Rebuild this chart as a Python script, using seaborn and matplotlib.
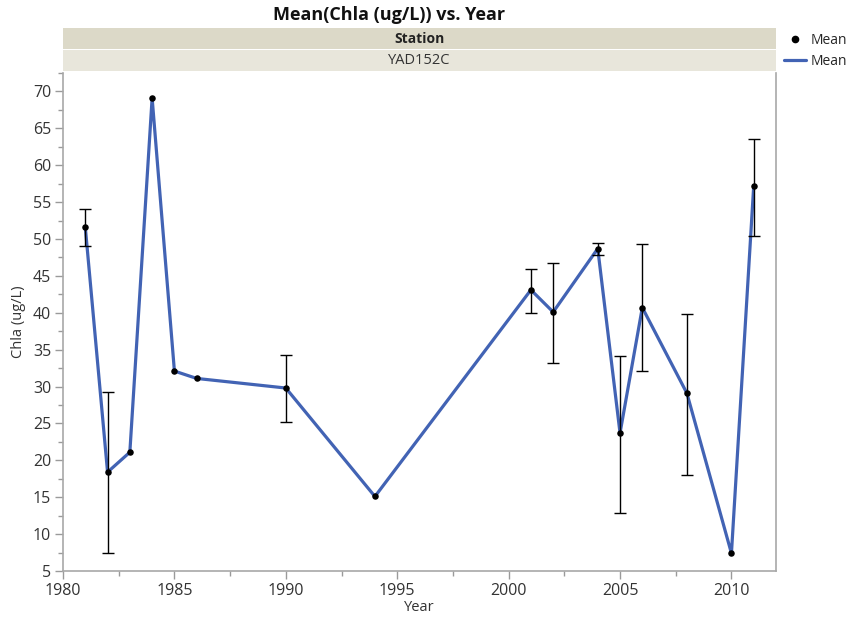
import numpy as np
import pandas as pd
import matplotlib
matplotlib.use("Agg")
import matplotlib.pyplot as plt
from matplotlib.patches import Rectangle
from matplotlib.lines import Line2D
from matplotlib.ticker import MultipleLocator
import seaborn as sns

years = [1981, 1982, 1983, 1984, 1985, 1986, 1990, 1994, 2001, 2002, 2004, 2005, 2006, 2008, 2010, 2011]
means = [51.6, 18.4, 21.1, 69.1, 32.1, 31.1, 29.8, 15.1, 43.1, 40.1, 48.7, 23.7, 40.7, 29.1, 7.4, 57.2]
err_low = [49.0, 7.5, None, None, None, None, 25.2, None, 40.0, 33.2, 47.8, 12.9, 32.1, 18.0, None, 50.4]
err_high = [54.0, 29.2, None, None, None, None, 34.3, None, 45.9, 46.8, 49.5, 34.2, 49.3, 39.9, None, 63.6]

station = "YAD152C"
title = "Mean(Chla (ug/L)) vs. Year"

df = pd.DataFrame({"Year": years, "Mean": means})

sns.set_style("white")
plt.rcParams["font.family"] = ["Open Sans", "DejaVu Sans"]

fig = plt.figure(figsize=(8.56, 6.19), dpi=100)
W, H = 856, 619
L, R, T, B = 63, 776, 73, 571
ax = fig.add_axes([L / W, 1 - B / H, (R - L) / W, (B - T) / H])

line_color = "#4263b4"
sns.lineplot(data=df, x="Year", y="Mean", ax=ax, color=line_color, lw=2.3, zorder=2)

ey, el, eh, em = [], [], [], []
for y, m, lo, hi in zip(years, means, err_low, err_high):
    if lo is not None:
        ey.append(y); em.append(m); el.append(m - lo); eh.append(hi - m)
ax.errorbar(ey, em, yerr=[el, eh], fmt="none", ecolor="black", elinewidth=1.0,
            capsize=4, capthick=1.0, zorder=3)
sns.scatterplot(data=df, x="Year", y="Mean", ax=ax, color="black", s=22,
                edgecolor="black", linewidth=0, zorder=4)

ax.set_xlim(1980, 2012)
ax.set_ylim(5, 72.5)
ax.xaxis.set_major_locator(MultipleLocator(5))
ax.xaxis.set_minor_locator(MultipleLocator(2.5))
ax.yaxis.set_major_locator(MultipleLocator(5))
ax.yaxis.set_minor_locator(MultipleLocator(2.5))
ax.tick_params(axis="both", which="major", length=6, width=1, color="#9a9a9a",
               labelsize=11.5, labelcolor="#333333", direction="out", left=True, bottom=True,
               pad=2.5)
ax.tick_params(axis="both", which="minor", length=3.5, width=1, color="#9a9a9a",
               direction="out", left=True, bottom=True)
for s in ax.spines.values():
    s.set_color("#a8a8a8")
    s.set_linewidth(1.2)
ax.spines["top"].set_visible(False)

ax.set_xlabel("Year", fontsize=10.5, color="#333333", labelpad=1)
ax.set_ylabel("Chla (ug/L)", fontsize=10.5, color="#333333", labelpad=5)

# Header bands
fig.patches.append(Rectangle((L / W, 1 - 49 / H), (R - L) / W, 21 / H,
                             transform=fig.transFigure, facecolor="#dcd9c8",
                             edgecolor="none"))
fig.patches.append(Rectangle((L / W, 1 - 71 / H), (R - L) / W, 21 / H,
                             transform=fig.transFigure, facecolor="#e8e6db",
                             edgecolor="none"))
cx = (L + R) / 2 / W
fig.text(cx, 1 - 39 / H, "Station", ha="center", va="center", fontsize=10,
         fontweight="bold", color="#222222")
fig.text(cx, 1 - 60 / H, station, ha="center", va="center", fontsize=10.5,
         color="#333333")
fig.text(389 / W, 1 - 15 / H, title, ha="center", va="center", fontsize=13,
         fontweight="bold", color="#111111")

# Legend
handles = [Line2D([], [], marker="o", color="black", linestyle="none", markersize=4.5),
           Line2D([], [], color=line_color, lw=2.3)]
fig.legend(handles, ["Mean", "Mean"], loc="upper left",
           bbox_to_anchor=(784 / W, 1 - 33 / H), frameon=False, fontsize=10,
           handlelength=1.6, handletextpad=0.3, labelspacing=0.45, borderpad=0,
           borderaxespad=0)

fig.savefig("out.png", dpi=100)
